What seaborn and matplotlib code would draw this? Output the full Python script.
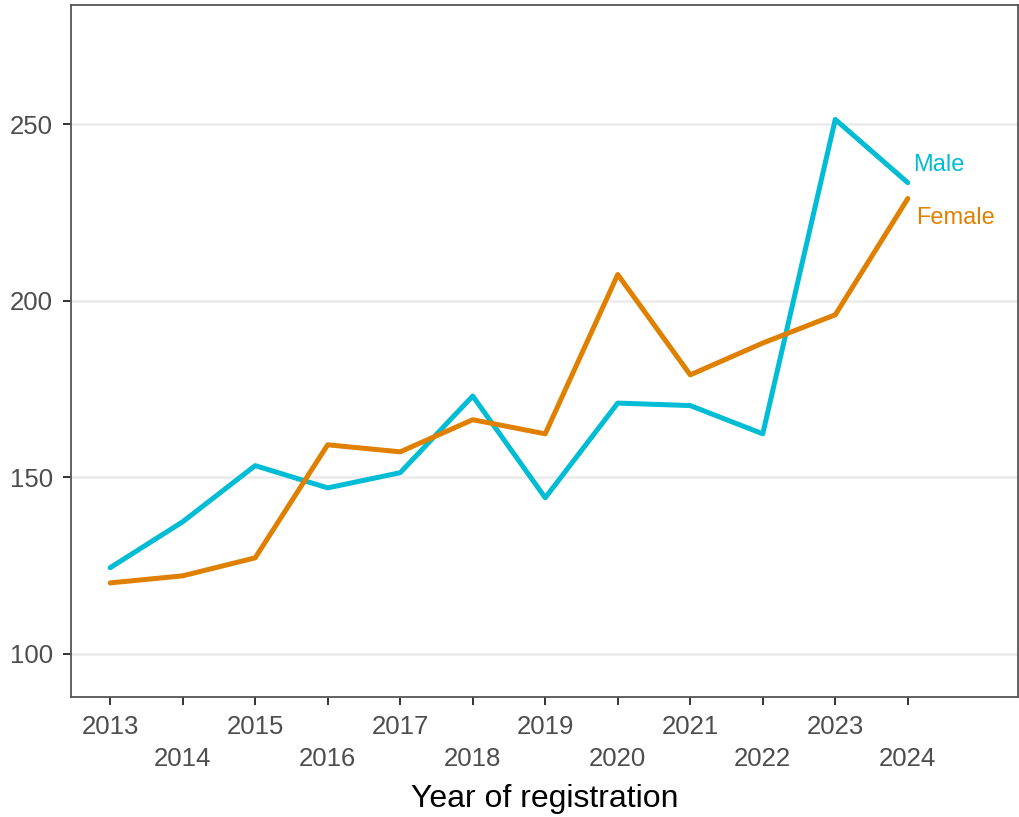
import matplotlib
matplotlib.use("Agg")
import matplotlib.pyplot as plt
import seaborn as sns
import pandas as pd

years = list(range(2013, 2025))
male = [124.4, 137.4, 153.3, 147.0, 151.3, 173.0, 144.2, 171.0, 170.3, 162.3, 251.3, 233.4]
female = [120.1, 122.1, 127.2, 159.2, 157.2, 166.3, 162.3, 207.4, 179.0, 188.0, 196.0, 228.9]
series_names = ["Male", "Female"]
colors = {"Male": "#00BCD4", "Female": "#E08000"}

df = pd.DataFrame({
    "year": years * 2,
    "value": male + female,
    "sex": ["Male"] * len(years) + ["Female"] * len(years),
})

sns.set_theme(style="white")
plt.rcParams['font.family'] = ['Liberation Sans', 'DejaVu Sans']

fig = plt.figure(figsize=(10.2, 8.17), dpi=100)
ax = fig.add_axes([71/1020, 1 - 697/817, (1018-71)/1020, (697-5)/817])

for y in [100, 150, 200, 250]:
    ax.axhline(y, color="#EBEBEB", lw=1.8, zorder=0)

sns.lineplot(data=df, x="year", y="value", hue="sex", palette=colors,
             hue_order=series_names, lw=3.6, ax=ax, legend=False)

ax.set_xlim(2012.46, 2025.52)
ax.set_ylim(87.8, 283.7)
ax.set_yticks([100, 150, 200, 250])
ax.set_yticklabels(["100", "150", "200", "250"])
ax.set_xticks(years)
ax.set_xticklabels([str(y) if y % 2 == 1 else "\n" + str(y) for y in years],
                   linespacing=1.42)
ax.tick_params(axis="both", labelsize=18.5, labelcolor="#4D4D4D", color="#333333",
               length=5.5, width=1.4, direction="out", left=True, bottom=True)
ax.tick_params(axis="x", pad=7.5)
ax.tick_params(axis="y", pad=7.5)
ax.set_xlabel("Year of registration", fontsize=23, color="black", labelpad=9.5)
ax.set_ylabel("")
for s in ax.spines.values():
    s.set_color("#555555")
    s.set_linewidth(1.3)
ax.set_facecolor("white")

ax.annotate("Male", xy=(years[-1], male[-1]), xytext=(4, 13), textcoords="offset points",
            color=colors["Male"], fontsize=17, ha="left", va="center")
ax.annotate("Female", xy=(years[-1], female[-1]), xytext=(6, -14), textcoords="offset points",
            color=colors["Female"], fontsize=17, ha="left", va="center")

fig.savefig("out.png", dpi=100, facecolor="white")
